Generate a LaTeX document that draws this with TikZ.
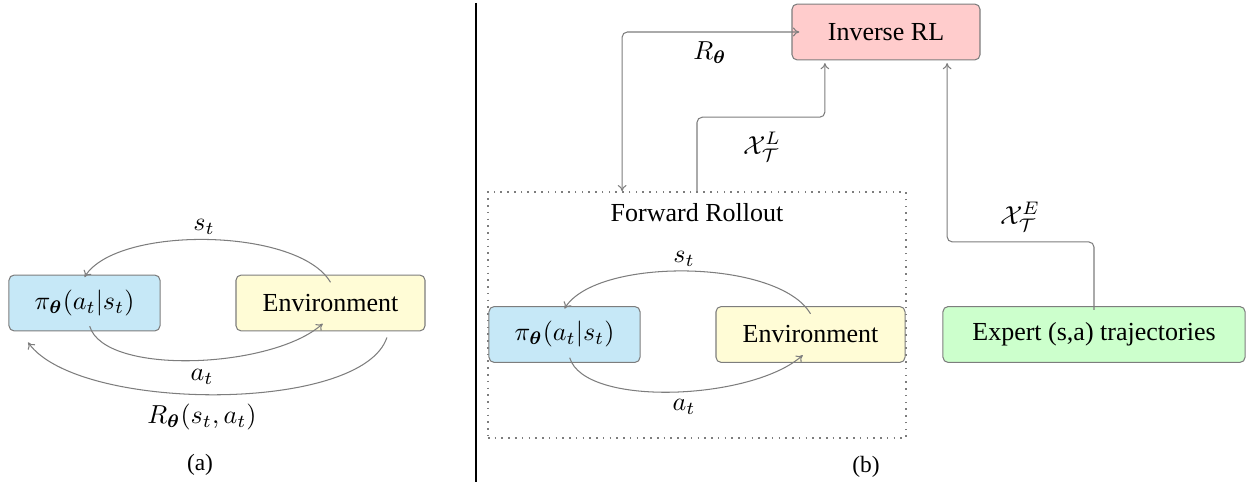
\documentclass[tikz,border=0pt]{standalone}
\usepackage{amsmath}
\usepackage{fontspec}
\setmainfont{LiberationSerif}[Extension=.ttf,UprightFont=*-Regular,BoldFont=*-Bold,ItalicFont=*-Italic,BoldItalicFont=*-BoldItalic]
\usetikzlibrary{arrows.meta}
\definecolor{polblue}{RGB}{198,232,247}
\definecolor{envyellow}{RGB}{255,252,214}
\definecolor{irlred}{RGB}{255,204,204}
\definecolor{expgreen}{RGB}{204,255,204}
\definecolor{linegray}{RGB}{125,125,125}
\begin{document}
\begin{tikzpicture}[x=0.3846pt,y=-0.3846pt,
  box/.style={draw=linegray,rounded corners=2pt,minimum height=21.5pt,inner sep=0pt,font=\rmfamily\fontsize{10}{12}\selectfont},
  arr/.style={draw=linegray,line width=0.4pt,-{To[length=2.4pt,width=3.4pt]}},
  lbl/.style={inner sep=0pt,font=\rmfamily\fontsize{10}{12}\selectfont}]
\useasboundingbox (0,0) rectangle (1246,482);
% divider
\draw[line width=0.5pt] (476,3) -- (476,482);
% ---------- (a)
\node[box,fill=polblue,minimum width=58.1pt] (pola) at (84.5,303) {$\pi_{\boldsymbol{\theta}}(a_t|s_t)$};
\node[box,fill=envyellow,minimum width=72.7pt] (enva) at (330.5,303) {Environment};
\draw[arr] ([yshift=-3pt]enva.north) .. controls +(-32,-55) and +(32,-52) .. ([yshift=-1pt]pola.north);
\draw[arr] ([xshift=2pt,yshift=2pt]pola.south) .. controls +(15,50) and +(-50,45) .. ([xshift=-3pt,yshift=3pt]enva.south);
\draw[arr] ([xshift=21.7pt,yshift=-2.3pt]enva.south) .. controls +(-25,76) and +(50,70) .. ([xshift=-21.7pt,yshift=-4.2pt]pola.south);
\node[lbl] (sta) at (204,227) {$s_t$};
\node[lbl] (ata) at (202,377) {$a_t$};
\node[lbl] (ra) at (202,417) {$R_{\boldsymbol{\theta}}(s_t,a_t)$};
\node[lbl] (capa) at (200,465) {\fontsize{9}{11}\selectfont (a)};
% ---------- (b)
\node[draw=linegray,dotted,line width=0.6pt,minimum width=160.8pt,minimum height=94.6pt,inner sep=0pt] (fr) at (697,315) {};
\node[lbl] (frl) at (697,213) {Forward Rollout};
\node[box,fill=polblue,minimum width=58.1pt] (polb) at (564.5,334.5) {$\pi_{\boldsymbol{\theta}}(a_t|s_t)$};
\node[box,fill=envyellow,minimum width=72.7pt] (envb) at (810.5,334.5) {Environment};
\draw[arr] ([yshift=-3pt]envb.north) .. controls +(-32,-55) and +(32,-52) .. ([yshift=-1pt]polb.north);
\draw[arr] ([xshift=2pt,yshift=2pt]polb.south) .. controls +(15,50) and +(-50,45) .. ([xshift=-3pt,yshift=3pt]envb.south);
\node[lbl] (stb) at (684,259) {$s_t$};
\node[lbl] (atb) at (684,407) {$a_t$};
\node[box,fill=irlred,minimum width=72.3pt] (irl) at (886,32) {Inverse RL};
\node[box,fill=expgreen,minimum width=116.2pt] (exp) at (1094,334.5) {Expert (s,a) trajectories};
\draw[arr,{To[length=2.4pt,width=3.4pt]}-{To[length=2.4pt,width=3.4pt]},rounded corners=2pt] ([xshift=3pt]irl.west) -| ([xshift=-28.8pt]fr.north);
\draw[arr,rounded corners=2pt] (fr.north) -- ++(0,-74) -| ([xshift=-23.5pt,yshift=-1pt]irl.south);
\draw[arr,rounded corners=2pt] ([yshift=-1.5pt]exp.north) -- ++(0,-68) -| ([xshift=23.5pt,yshift=-1pt]irl.south);
\node[lbl] (rb) at (710,53) {$R_{\boldsymbol{\theta}}$};
\node[lbl] (xl) at (762,147) {$\mathcal{X}_{\mathcal{T}}^{L}$};
\node[lbl] (xe) at (1020,217) {$\mathcal{X}_{\mathcal{T}}^{E}$};
\node[lbl] (capb) at (866,467) {\fontsize{9}{11}\selectfont (b)};
\end{tikzpicture}
\end{document}
